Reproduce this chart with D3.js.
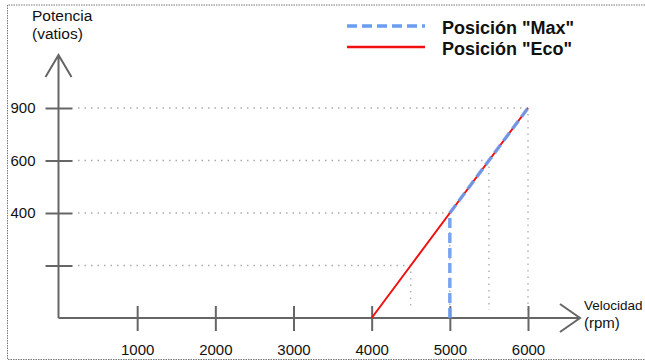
<!DOCTYPE html>
<html>
<head>
<meta charset="utf-8">
<script src="https://cdn.jsdelivr.net/npm/d3@7"></script>
<style>
  html, body { margin: 0; padding: 0; background: #fff; }
  svg { display: block; font-family: "Liberation Sans", Arial, sans-serif; }
</style>
</head>
<body>
<svg id="chart" width="645" height="361"></svg>
<script>
// Speed (rpm) and power (watts) for each operating mode
const speedTicks = [1000, 2000, 3000, 4000, 5000, 6000];
const powerTicks = [200, 400, 600, 900];
const powerTickLabels = ["", "400", "600", "900"];

const ecoSpeed = [4000, 4500, 5000, 5500, 6000];
const ecoPower = [0, 200, 400, 600, 900];

const maxSpeed = [5000, 5000, 5500, 6000];
const maxPower = [0, 400, 600, 900];

const legendLabels = ['Posición "Max"', 'Posición "Eco"'];
const yTitle = ["Potencia", "(vatios)"];
const xTitle = ["Velocidad", "(rpm)"];

const svg = d3.select("#chart");
const axisColor = "#666";
const guideColor = "#aaa";
const maxColor = "#6a9cf0";
const ecoColor = "#f01010";

// Power axis is evenly spaced between its marked levels (not proportional)
const x = d3.scaleLinear().domain([0, 6000]).range([59, 528]);
const y = d3.scaleLinear().domain([0, 200, 400, 600, 900]).range([318, 265.5, 213, 160.5, 108]);

// Frame
svg.append("path")
  .attr("d", "M650,5 H7.5 V359.5 H650")
  .attr("fill", "none")
  .attr("stroke", "#777")
  .attr("stroke-width", 1)
  .attr("stroke-dasharray", "1.5,1");

const eco = ecoSpeed.map((s, i) => ({ s, p: ecoPower[i] }));
const mx = maxSpeed.map((s, i) => ({ s, p: maxPower[i] }));

// Dotted guides from each level to the curve and down to the speed axis
const guides = svg.append("g")
  .attr("stroke", guideColor)
  .attr("stroke-width", 1.3)
  .attr("stroke-dasharray", "1.5,5");
eco.filter(d => d.p > 0).forEach(d => {
  guides.append("line")
    .attr("x1", x(0) + 19).attr("x2", x(d.s))
    .attr("y1", y(d.p)).attr("y2", y(d.p));
  guides.append("line")
    .attr("x1", x(d.s)).attr("x2", x(d.s))
    .attr("y1", y(d.p) + 6).attr("y2", y(0) - 8);
});

// Speed axis
const xAxis = svg.append("g")
  .attr("transform", `translate(0,${y(0)})`)
  .call(d3.axisBottom(x).tickValues(speedTicks).tickFormat(d3.format("d"))
    .tickSize(0).tickPadding(0));
xAxis.select(".domain").remove();
xAxis.selectAll(".tick line")
  .attr("y1", -12).attr("y2", 13)
  .attr("stroke", axisColor).attr("stroke-width", 2);
xAxis.selectAll(".tick text")
  .attr("y", 37).attr("dy", null)
  .attr("fill", "#111")
  .style("font-size", "15px")
  .style("font-family", '"Liberation Sans", Arial, sans-serif');

// Power axis
const yAxis = svg.append("g")
  .attr("transform", `translate(${x(0) - 0.5},0)`)
  .call(d3.axisLeft(y).tickValues(powerTicks)
    .tickFormat((d, i) => powerTickLabels[i]).tickSize(0).tickPadding(0));
yAxis.select(".domain").remove();
yAxis.selectAll(".tick line")
  .attr("x1", -13).attr("x2", 14)
  .attr("stroke", axisColor).attr("stroke-width", 2);
yAxis.selectAll(".tick text")
  .attr("x", -23)
  .attr("fill", "#111")
  .style("font-size", "15px")
  .style("font-family", '"Liberation Sans", Arial, sans-serif');

// Axis lines with open arrow heads
const x0 = x(0) - 0.5, y0 = y(0);
const xEnd = x.range()[1] + 52, yEnd = y.range()[4] - 53;
svg.append("path")
  .attr("d", `M${x0},${y0} H${xEnd} M${xEnd - 20},${y0 - 14} L${xEnd},${y0} L${xEnd - 20},${y0 + 14}`)
  .attr("fill", "none").attr("stroke", axisColor).attr("stroke-width", 2);
svg.append("path")
  .attr("d", `M${x0},${y0} V${yEnd} M${x0 - 13},${yEnd + 22} L${x0},${yEnd} L${x0 + 13},${yEnd + 22}`)
  .attr("fill", "none").attr("stroke", axisColor).attr("stroke-width", 2);

// Curves
const line = d3.line().x(d => x(d.s)).y(d => y(d.p));
svg.append("path")
  .datum(eco)
  .attr("d", line)
  .attr("fill", "none").attr("stroke", ecoColor).attr("stroke-width", 2);
svg.append("path")
  .datum(mx)
  .attr("d", line)
  .attr("fill", "none").attr("stroke", maxColor).attr("stroke-width", 3.5)
  .attr("stroke-dasharray", "10,5").attr("opacity", 0.9);

// Axis titles
svg.append("g").selectAll("text").data(yTitle).join("text")
  .attr("x", 32).attr("y", (d, i) => 21 + i * 18)
  .attr("fill", "#111").style("font-size", "15.5px")
  .text(d => d);
svg.append("g").selectAll("text").data(xTitle).join("text")
  .attr("x", 584).attr("y", (d, i) => 310 + i * 18)
  .attr("fill", "#111").style("font-size", (d, i) => i === 0 ? "13.5px" : "15px")
  .text(d => d);

// Legend
const legend = svg.append("g");
const legendStyles = [
  { color: maxColor, width: 3.5, dash: "10,5" },
  { color: ecoColor, width: 2.5, dash: null }
];
legendLabels.forEach((label, i) => {
  const ly = 26 + i * 21;
  legend.append("line")
    .attr("x1", 347).attr("x2", 425).attr("y1", ly).attr("y2", ly)
    .attr("stroke", legendStyles[i].color)
    .attr("stroke-width", legendStyles[i].width)
    .attr("stroke-dasharray", legendStyles[i].dash);
  legend.append("text")
    .attr("x", 442).attr("y", ly + 7.5)
    .attr("fill", "#111")
    .style("font-size", "18px").style("font-weight", "bold")
    .text(label);
});
</script>
</body>
</html>
